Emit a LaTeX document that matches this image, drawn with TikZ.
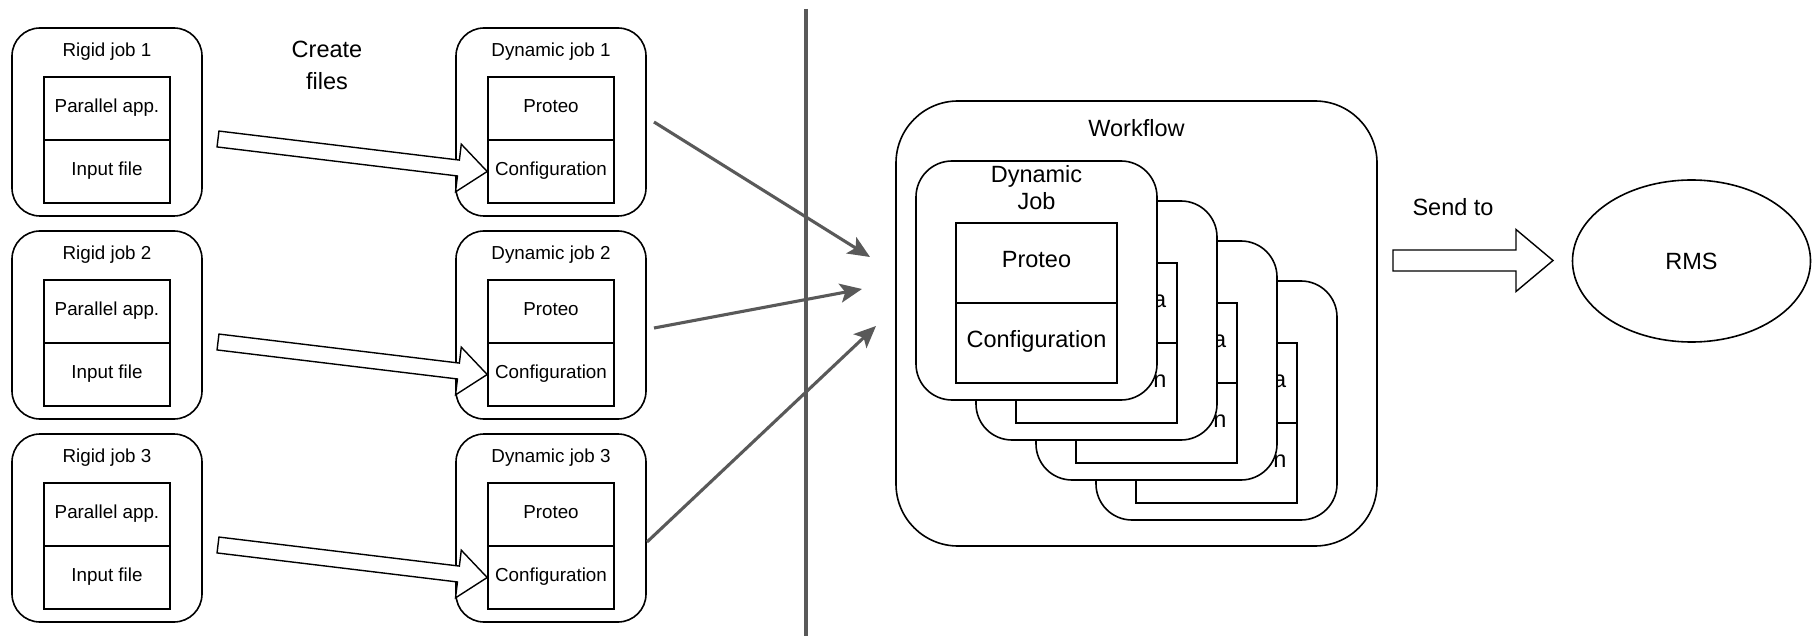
\documentclass[tikz,border=0pt]{standalone}
\usepackage{fontspec}
\setmainfont{Liberation Sans}
\usetikzlibrary{calc,arrows.meta,shapes.geometric}
\definecolor{linkgray}{RGB}{89,89,89}

% hollow block arrow: #1 tail, #2 tip, #3 shaft half-width, #4 head half-width, #5 head length
\newcommand\fatarrow[5]{%
  \path ($(#2)!#5!(#1)$) coordinate (fah);
  \draw[fatline] ($(#1)!#3!90:(#2)$) -- ($(fah)!#3!90:(#2)$) -- ($(fah)!#4!90:(#2)$)
    -- (#2) -- ($(fah)!#4!-90:(#2)$) -- ($(fah)!#3!-90:(#2)$) -- ($(#1)!#3!-90:(#2)$) -- cycle;
}

\tikzset{
  smallfont/.style={font=\fontsize{18.8pt}{22.5pt}\selectfont},
  bigfont/.style={font=\fontsize{23.5pt}{28pt}\selectfont},
  smalltxt/.style={smallfont, inner sep=0pt, text height=13.5pt, text depth=0pt},
  bigtxt/.style={bigfont, inner sep=0pt, text height=16.8pt, text depth=0pt},
  jobbox/.style={draw=black, line width=1.6pt, fill=white, rounded corners=28pt,
    minimum width=190pt, minimum height=188pt, inner sep=0pt},
  cell/.style={draw=black, line width=1.6pt, fill=white, smallfont, inner sep=0pt,
    minimum width=126pt, minimum height=63pt, text height=15pt, text depth=7.5pt},
  bigbox/.style={draw=black, line width=1.6pt, fill=white, rounded corners=36pt,
    minimum width=241pt, minimum height=239pt, inner sep=0pt},
  bigcell/.style={draw=black, line width=1.6pt, fill=white, bigfont, inner sep=0pt,
    minimum width=161pt, minimum height=80pt, text height=18.8pt, text depth=9.4pt},
  flowbox/.style={draw=black, line width=1.6pt, fill=white, rounded corners=62pt,
    minimum width=481pt, minimum height=445pt, inner sep=0pt},
  fatline/.style={draw=black, line width=1.4pt, fill=white, line join=miter},
  link/.style={draw=linkgray, line width=3.1pt,
    -{Stealth[length=22pt,width=19pt,inset=5pt]}},
  divider/.style={draw=linkgray, line width=3.1pt},
  rms/.style={ellipse, draw=black, line width=1.6pt, fill=white, bigfont,
    minimum width=238pt, minimum height=162pt, inner sep=0pt, text height=16.8pt, text depth=0pt}
}

\begin{document}
\begin{tikzpicture}[x=1pt,y=-1pt]
\useasboundingbox (0,0) rectangle (1812,636);

% rigid jobs, dynamic jobs and the conversion arrows between them
\foreach \i/\T in {1/28,2/231,3/434}{
  \node[jobbox] (rigid\i) at (107,\T+94) {};
  \node[smalltxt] (rigid\i title) at (107,\T+21.5) {Rigid job \i};
  \node[cell] (rigid\i app) at (107,\T+80.5) {Parallel app.};
  \node[cell] (rigid\i in) at (107,\T+143.5) {Input file};
  \node[jobbox] (dyn\i) at (551,\T+94) {};
  \node[smalltxt] (dyn\i title) at (551,\T+21.5) {Dynamic job \i};
  \node[cell] (dyn\i proteo) at (551,\T+80.5) {Proteo};
  \node[cell] (dyn\i cfg) at (551,\T+143.5) {Configuration};
  \coordinate (tail\i) at (218,\T+111);
  \fatarrow{tail\i}{dyn\i cfg.west}{8pt}{24pt}{29pt}
}

\node[bigtxt] (create1) at (327,49.5) {Create};
\node[bigtxt] (create2) at (327,81) {files};

% separator
\coordinate (septop) at (806,9);
\coordinate (sepbot) at (806,636);
\draw[divider] (septop) -- (sepbot);

% workflow container
\node[flowbox] (workflow) at (1136.5,323.5) {};
\node[bigtxt] (workflow title) at (1136.5,127.7) {Workflow};

% stacked dynamic jobs behind the front one
\foreach \k in {3,2,1}{
  \begin{scope}[shift={(60*\k,40*\k)}]
    \node[bigbox] (stack\k) at (1036.5,280.5) {};
    \node[bigcell] (stack\k top) at (1036.5,263) {};
    \node[bigcell] (stack\k cfg) at (1036.5,343) {Configuration};
    \node[bigtxt, anchor=east] (stack\k a) at (1106.4,259.5) {a};
  \end{scope}
}

% front dynamic job
\node[bigbox] (front) at (1036.5,280.5) {};
\node[bigtxt] (front t1) at (1036.5,174) {Dynamic};
\node[bigtxt] (front t2) at (1036.5,201) {Job};
\node[bigcell] (front proteo) at (1036.5,263) {Proteo};
\node[bigcell] (front cfg) at (1036.5,343) {Configuration};

% jobs gathered into the workflow
\coordinate (g1s) at (654,122);
\coordinate (g1e) at (870,257);
\coordinate (g2s) at (654,328);
\coordinate (g2e) at (862,289);
\coordinate (g3s) at (647,542);
\coordinate (g3e) at (876,326);
\draw[link] (g1s) -- (g1e);
\draw[link] (g2s) -- (g2e);
\draw[link] (g3s) -- (g3e);

% submission to the RMS
\node[rms] (rms) at (1691.5,261) {RMS};
\node[bigtxt] (sendlabel) at (1453,207) {Send to};
\coordinate (sendtail) at (1393,260.5);
\coordinate (sendtip) at (1553,260.5);
\fatarrow{sendtail}{sendtip}{10.5pt}{31pt}{37pt}
\end{tikzpicture}
\end{document}
